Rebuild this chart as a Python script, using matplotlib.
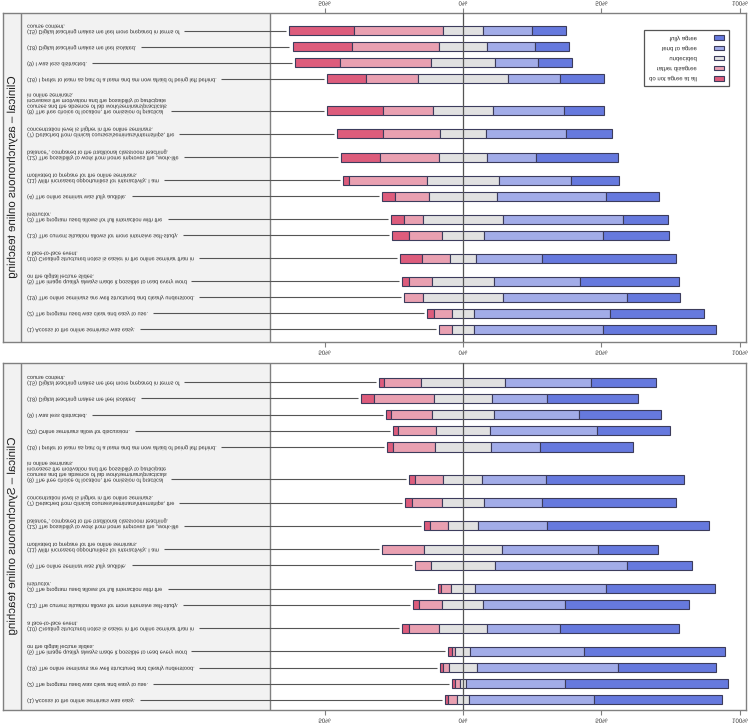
import matplotlib
matplotlib.use("Agg")
import matplotlib.pyplot as plt
import matplotlib.patheffects as pe
from matplotlib.transforms import Affine2D
from matplotlib.patches import Patch
import numpy as np

plt.rcParams['font.family'] = ['Liberation Sans', 'DejaVu Sans']

# ---------------- data ----------------
levels = ["do not agree at all", "rather disagree", "undecided", "tend to agree", "fully agree"]
level_colors = ["#dd5c7c", "#e9a0b1", "#e1e1e1", "#a2ace8", "#6679de"]
tick_values = [-50, 0, 50, 100]
tick_labels = ["50%", "0%", "50%", "100%"]
panel_titles = ["Clinical – asynchronous online teaching",
                "Clinical – Synchronous online teaching"]

async_items = [
    "(15) Digital teaching makes me feel more prepared in terms of\ncourse content.",
    "(18) Digital teaching makes me feel isolated.",
    "(9) I was less distracted.",
    "(16) I prefer to learn as part of a team and am now afraid of being left behind.",
    "(8) The free choice of location, the omission of practical\ncourses and the absence of lab work/seminars/practicals\nincreases the motivation and the possibility to participate\nin online seminars.",
    "(7) Detached from clinical courses/seminars/internships, the\nconcentration level is higher in the online seminars.",
    "(12) The possibility to work from home improves the \u201ework-life\nbalance\u201c, compared to the traditional classroom teaching.",
    "(11) With increased opportunities for interactivity, I am\nmotivated to prepare for the online seminars.",
    "(4) The online seminar was fully audible.",
    "(3) The program used allows for full interaction with the\ninstructor.",
    "(13) The current situation allows for more intensive self-study.",
    "(10) Creating structured notes is easier in the online seminar than in\na face-to-face event.",
    "(5) The image quality always made it possible to read every word\non the digital lecture slides.",
    "(19) The online seminars are well structured and clearly understood.",
    "(2) The program used was clear and easy to use.",
    "(1) Access to the online seminars was easy.",
]
async_not_at_all = [23.5, 21.6, 16.2, 13.9, 20.2, 16.6, 14.1, 2.4, 4.9, 4.5, 6.1, 8.1, 2.5, 0.0, 2.5, 0.0]
async_rather_dis = [31.9, 31.3, 32.8, 19.0, 17.9, 20.9, 21.1, 28.1, 12.2, 6.9, 11.7, 10.0, 8.2, 6.8, 6.3, 4.5]
async_undecided  = [14.6, 17.3, 23.2, 32.2, 21.8, 16.3, 17.5, 25.8, 24.5, 29.0, 15.3, 9.6, 22.6, 29.2, 8.2, 8.2]
async_tend_agree = [17.7, 17.5, 15.5, 19.0, 25.7, 28.9, 17.5, 26.0, 39.4, 43.2, 43.0, 23.9, 30.9, 44.6, 49.0, 46.5]
async_fully      = [12.1, 12.2, 12.1, 15.8, 14.3, 16.9, 29.6, 17.4, 19.0, 16.3, 23.7, 48.2, 35.8, 19.0, 33.9, 40.7]

sync_items = [
    "(15) Digital teaching makes me feel more prepared in terms of\ncourse content.",
    "(18) Digital teaching makes me feel isolated.",
    "(9) I was less distracted.",
    "(20) Online seminars allow for discussion.",
    "(16) I prefer to learn as part of a team and am now afraid of being left behind.",
    "(8) The free choice of location, the omission of practical\ncourses and the absence of lab work/seminars/practicals\nincreases the motivation and the possibility to participate\nin online seminars.",
    "(7) Detached from clinical courses/seminars/internships, the\nconcentration level is higher in the online seminars.",
    "(12) The possibility to work from home improves the \u201ework-life\nbalance\u201c, compared to the traditional classroom teaching.",
    "(11) With increased opportunities for interactivity, I am\nmotivated to prepare for the online seminars.",
    "(4) The online seminar was fully audible.",
    "(3) The program used allows for full interaction with the\ninstructor.",
    "(13) The current situation allows for more intensive self-study.",
    "(10) Creating structured notes is easier in the online seminar than in\na face-to-face event.",
    "(5) The image quality always made it possible to read every word\non the digital lecture slides.",
    "(19) The online seminars are well structured and clearly understood.",
    "(2) The program used was clear and easy to use.",
    "(1) Access to the online seminars was easy.",
]
sync_not_at_all = [1.8, 4.7, 1.8, 1.8, 2.1, 2.5, 2.5, 2.2, 0.0, 0.0, 1.2, 2.4, 2.4, 1.3, 1.0, 1.2, 0.9]
sync_rather_dis = [13.2, 21.7, 14.8, 13.8, 15.2, 10.1, 10.9, 6.5, 15.4, 5.6, 3.4, 8.4, 10.7, 1.4, 2.2, 1.8, 3.2]
sync_undecided  = [30.5, 20.9, 22.4, 19.4, 20.2, 14.1, 15.1, 10.8, 28.0, 23.4, 8.9, 14.8, 17.6, 5.4, 10.1, 2.2, 4.6]
sync_tend_agree = [31.0, 19.9, 30.6, 38.7, 17.7, 23.1, 21.0, 24.9, 34.6, 47.5, 47.3, 29.5, 26.2, 41.1, 50.8, 35.7, 45.1]
sync_fully      = [23.5, 32.8, 29.6, 26.3, 33.6, 49.8, 48.4, 58.5, 21.7, 23.4, 39.2, 44.9, 43.1, 50.7, 35.6, 59.0, 46.0]

# ---------------- style / layout ----------------
W, H = 756, 726
FS = 4.0
EDGE = "#3c3c5c"
FRAME = "#808080"
XMIN, STRIP, LABEL_EDGE, XMAX = -166.1, -159.6, -69.7, 102.1
GAP = {1: 16, 2: 23, 3: 28, 4: 32}


class FlipV(pe.AbstractPathEffect):
    """Mirror a text artist vertically about the centre of its own box."""
    def __init__(self, text):
        super().__init__()
        self.text = text

    def draw_path(self, renderer, gc, tpath, affine, rgbFace=None):
        bb = self.text.get_window_extent(renderer)
        yc = 0.5 * (bb.y0 + bb.y1)
        flip = Affine2D().translate(0, -yc).scale(1, -1).translate(0, yc)
        renderer.draw_path(gc, tpath, affine + flip, rgbFace)


def flip_text(t):
    t.set_path_effects([FlipV(t)])


def rect(x0, y0, x1, y1):
    return [x0 / W, 1 - y1 / H, (x1 - x0) / W, (y1 - y0) / H]


fig = plt.figure(figsize=(W / 100, H / 100), dpi=100)
fig.patch.set_facecolor("white")


def panel(ax, items, series, title, top_pad, bottom_pad, ticks_top, ticks_bottom):
    nlines = [s.count("\n") + 1 for s in items]
    ys = np.cumsum([0] + [GAP[n] for n in nlines[1:]]).astype(float)
    ax.set_xlim(XMIN, XMAX)
    ax.set_ylim(ys[-1] + bottom_pad, ys[0] - top_pad)
    ax.axvspan(XMIN, LABEL_EDGE, color="#f2f2f2", lw=0, zorder=0)
    ax.axvline(STRIP, color=FRAME, lw=1.0, zorder=1)
    ax.axvline(LABEL_EDGE, color=FRAME, lw=1.0, zorder=1)
    vals = [np.asarray(v, float) for v in series]
    start = -(vals[2] / 2 + vals[1] + vals[0])
    bar_left = start.copy()
    for v, col in zip(vals, level_colors):
        m = v > 0
        ax.barh(ys[m], v[m], left=start[m], height=9, color=col,
                edgecolor=EDGE, linewidth=0.8, zorder=2)
        start = start + v
    ax.axvline(0, color="#555555", lw=0.9, zorder=3)

    texts = []
    for y, s in zip(ys, items):
        t = ax.annotate(s, xy=(STRIP + 2.2, y), xytext=(0, -0.6 * FS),
                        textcoords="offset points", ha="left", va="bottom",
                        fontsize=FS, color="#2a2a2a", linespacing=1.15,
                        annotation_clip=False)
        flip_text(t)
        texts.append(t)

    st = ax.text((XMIN + STRIP) / 2, 0.5 * (ys[0] - top_pad + ys[-1] + bottom_pad), title,
                 rotation=90, ha="center", va="center", fontsize=8.3, color="#222222")
    flip_text(st)

    ax.set_yticks([])
    ax.set_xticks(tick_values, tick_labels)
    ax.tick_params(axis="x", direction="out", length=3.5, width=0.8, color=FRAME,
                   labelsize=4.4, labelcolor="#333333", pad=2,
                   top=ticks_top, labeltop=ticks_top,
                   bottom=ticks_bottom, labelbottom=ticks_bottom)
    for tk in ax.xaxis.get_major_ticks():
        flip_text(tk.label1)
        flip_text(tk.label2)
    for sp in ax.spines.values():
        sp.set_color(FRAME)
        sp.set_linewidth(1.0)
    return ys, bar_left, texts


ax1 = fig.add_axes(rect(3, 13, 745.7, 342))
ax2 = fig.add_axes(rect(3, 363, 745.7, 710))

p1 = panel(ax1, async_items,
           [async_not_at_all, async_rather_dis, async_undecided, async_tend_agree, async_fully],
           panel_titles[0], 18, 13, True, True)
p2 = panel(ax2, sync_items,
           [sync_not_at_all, sync_rather_dis, sync_undecided, sync_tend_agree, sync_fully],
           panel_titles[1], 19, 10, False, True)

handles = [Patch(facecolor=level_colors[i], edgecolor=EDGE, linewidth=0.8) for i in range(4, -1, -1)]
labels = [levels[i] for i in range(4, -1, -1)]
leg = ax1.legend(handles, labels, loc="upper right", bbox_to_anchor=(0.9775, 0.948),
                 borderaxespad=0, fontsize=4.3, markerfirst=False, fancybox=False,
                 framealpha=1, edgecolor="#555555", borderpad=0.9, labelspacing=0.75,
                 handlelength=1.6, handleheight=0.9, handletextpad=2.8)
leg.get_frame().set_linewidth(0.9)
for t in leg.get_texts():
    t.set_color("#2a2a2a")
    flip_text(t)

# leader lines from label ends to bar starts
fig.canvas.draw()
renderer = fig.canvas.get_renderer()
for ax, (ys, bar_left, texts) in [(ax1, p1), (ax2, p2)]:
    inv = ax.transData.inverted()
    for y, bl, t in zip(ys, bar_left, texts):
        bb = t.get_window_extent(renderer)
        x0 = inv.transform((bb.x1 + 6, 0))[0]
        ax.plot([x0, bl - 1.1], [y, y], color="#555555", lw=0.8, zorder=1.5,
                solid_capstyle="butt")

fig.savefig("out.png", dpi=100)
